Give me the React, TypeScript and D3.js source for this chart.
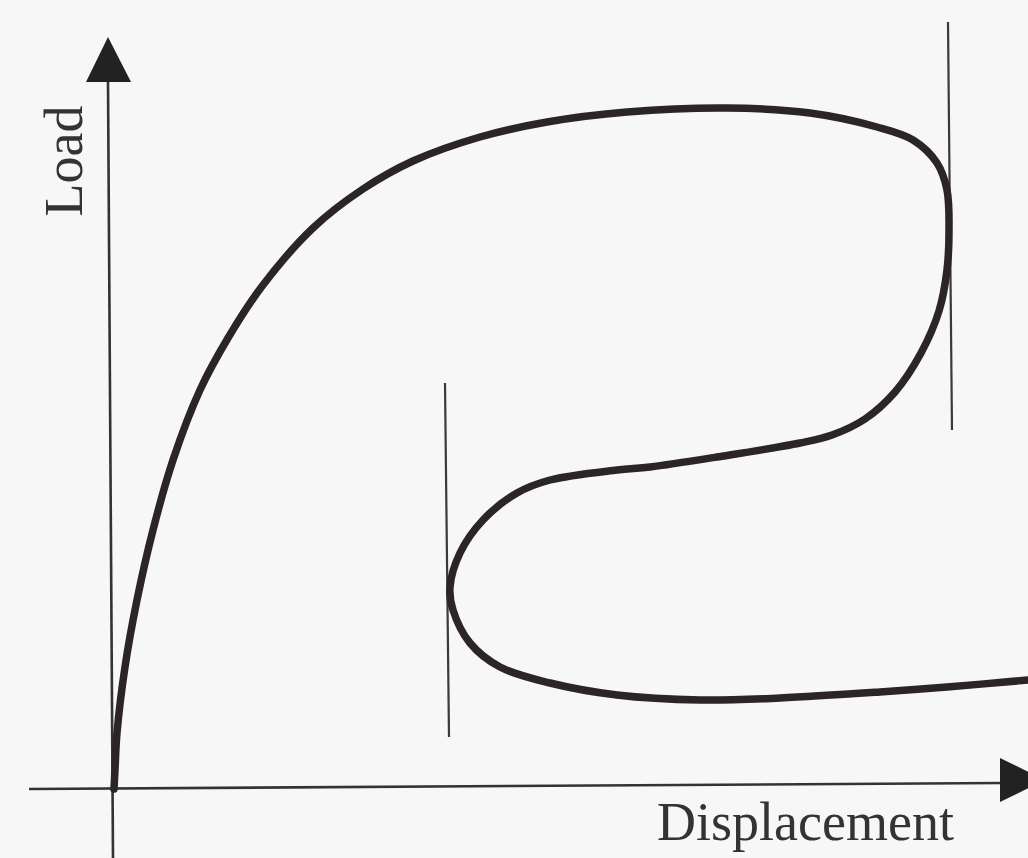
import React from "react";
import * as d3 from "d3";

// Schematic load–displacement path (snap-through / snap-back), in chart units
const displacement = [1, 2, 4, 12, 24, 40, 60, 87, 115, 150, 200, 250, 300, 367, 434, 514, 614, 697, 764, 800, 824, 834, 836, 834, 826, 808, 782, 752, 719, 687, 604, 537, 504, 437, 404, 370, 347, 337, 340, 357, 387, 437, 504, 587, 667, 767, 834, 915];
const load = [0, 19, 56, 122, 189, 259, 329, 399, 451, 504, 561, 600, 628, 652, 667, 677, 681, 676, 662, 649, 626, 599, 559, 519, 478, 436, 397, 370, 354, 346, 332, 322, 319, 309, 296, 269, 236, 202, 179, 146, 122, 106, 94, 89, 91, 97, 102, 109];

// Tangent guide lines at the limit points: [displacement, load from, load to]
const guideX = [837, 334];
const guideFrom = [767, 406];
const guideTo = [359, 52];

const xLabel = "Displacement";
const yLabel = "Load";

const W = 1028;
const H = 858;

export default function App() {
  const x = d3.scaleLinear().domain([0, 915]).range([113, 1028]);
  const y = d3.scaleLinear().domain([0, 700]).range([789, 89]);

  const pts: [number, number][] = displacement.map((d, i) => [d, load[i]]);
  const line = d3
    .line<[number, number]>()
    .x((d) => x(d[0]))
    .y((d) => y(d[1]))
    .curve(d3.curveCatmullRom.alpha(0.5));

  const ox = x(0);
  const oy = y(0);
  const ink = "#2b2528";

  return (
    <svg
      width={W}
      height={H}
      style={{ position: "absolute", left: 0, top: 0, background: "#f7f7f7" }}
    >
      <rect x={0} y={0} width={W} height={H} fill="#f7f7f7" />
      {/* y axis */}
      <line x1={ox - 5} y1={y(707)} x2={ox} y2={H} stroke="#333" strokeWidth={2.6} />
      <polygon
        points={`${ox - 5},${y(752)} ${ox - 27},${y(707)} ${ox + 18},${y(707)}`}
        fill="#222"
      />
      {/* x axis */}
      <line x1={x(-84)} y1={oy} x2={x(890)} y2={oy - 6} stroke="#333" strokeWidth={2.6} />
      <polygon
        points={`${x(887)},${oy - 31} ${x(932)},${oy - 9} ${x(887)},${oy + 13}`}
        fill="#222"
      />
      {/* guide lines */}
      {guideX.map((g, i) => (
        <line
          key={i}
          x1={x(g) - 2}
          y1={y(guideFrom[i])}
          x2={x(g) + 2}
          y2={y(guideTo[i])}
          stroke="#3a3a3a"
          strokeWidth={2.2}
        />
      ))}
      {/* curve */}
      <path
        d={line(pts) || ""}
        fill="none"
        stroke={ink}
        strokeWidth={7.5}
        strokeLinecap="round"
        strokeLinejoin="round"
      />
      {/* labels */}
      <text
        transform={`translate(82,161) rotate(-90)`}
        textAnchor="middle"
        fontFamily="'Liberation Serif', 'DejaVu Serif', serif"
        fontSize={54}
        fill="#333"
      >
        {yLabel}
      </text>
      <text
        x={657}
        y={840}
        fontFamily="'Liberation Serif', 'DejaVu Serif', serif"
        fontSize={54}
        fill="#333"
      >
        {xLabel}
      </text>
    </svg>
  );
}
